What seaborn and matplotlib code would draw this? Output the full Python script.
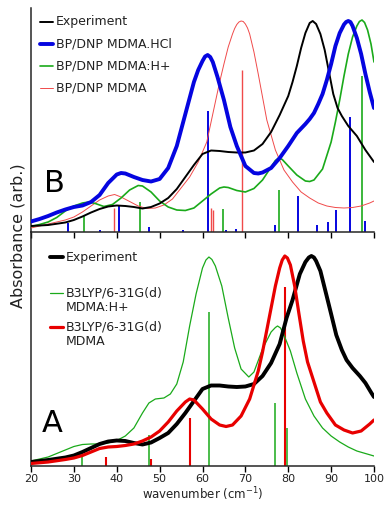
import numpy as np
import pandas as pd
import matplotlib
matplotlib.use("Agg")
import matplotlib.pyplot as plt
import seaborn as sns

# ---------------- data ----------------
# Panel B (top)
exp_b_x = [20, 24, 28, 30, 32, 34, 36, 38, 40, 42, 44, 46, 48, 50, 52, 54, 56, 58, 60, 62,
           64, 66, 68, 70, 72, 74, 76, 78, 80, 81, 82, 83, 84, 85, 85.7, 86.5, 87.5, 88.5,
           89.5, 90.5, 91.5, 92.5, 94, 96, 98, 100]
exp_b_y = [6, 7, 9.5, 12, 15.5, 19.5, 23, 25.5, 26.5, 26, 25, 23.5, 25, 28.5, 34, 43, 55, 67, 78, 81.5,
           81, 80, 79.5, 79.5, 81.5, 88, 100, 117, 136, 150, 166, 184, 199, 209, 211, 208, 198, 182,
           160, 138, 124, 116, 106, 96, 82, 70]

hcl_b_x = [20, 22, 24, 26, 28, 30, 32, 34, 36, 38, 40, 41, 42, 44, 46, 48, 50, 52, 54, 56, 58, 59,
           60, 60.6, 61.2, 61.8, 62.4, 63.5, 65, 66.5, 68, 70, 72, 73, 74, 76, 78, 80, 82, 84, 85, 86,
           87, 88, 89, 90, 91, 92, 93, 93.5, 94, 94.5, 95, 96, 97, 98, 99, 100]
hcl_b_y = [10.5, 13, 16, 19.5, 22.5, 25, 26.5, 30, 37, 49, 57.5, 59, 58.5, 55, 52, 50.5, 53, 64, 86, 118, 150, 162,
           171, 175.5, 177, 175, 170, 155, 132, 105, 86, 66, 59, 58.5, 59.5, 64, 74, 86, 99, 108, 113, 119,
           128, 138, 152, 168, 186, 199, 207.5, 210, 211, 210, 206, 194, 178, 158, 140, 124]

hp_b_x = [20, 22, 24, 26, 28, 30, 32, 33.5, 35, 37, 39, 41, 43, 45, 46, 48, 50, 52, 54, 56, 58, 60,
          62, 64, 65, 66, 68, 70, 72, 74, 76, 77, 77.8, 78.6, 80, 82, 84, 85, 86, 88, 90, 91, 92, 93,
          94, 95, 96, 96.6, 97.2, 97.8, 98.5, 99.3, 100]
hp_b_y = [5.5, 7.5, 10, 14.5, 21, 26, 29, 30, 28.5, 25.5, 27.5, 34, 42, 46.5, 46, 40, 31, 25, 22, 21.5, 24, 31,
          38, 44, 45, 44.5, 41.5, 40, 43.5, 52, 65, 71.5, 74, 72.5, 66, 57, 51, 50.5, 52, 63, 90, 110, 132, 156,
          178, 195, 206, 210.5, 212, 209.5, 202, 188, 170]

mdma_b_x = [20, 22, 24, 26, 28, 30, 32, 34, 36, 38, 39.5, 41, 43, 45, 47, 49, 51, 53, 55, 57, 59, 61,
            63, 64, 65, 66, 67, 67.5, 68, 68.5, 69, 69.5, 70, 70.5, 71, 72, 73, 74, 75, 77, 79, 81,
            83, 85, 87, 89, 91, 93, 95, 97, 99, 100]
mdma_b_y = [4, 6, 8, 10, 12, 15, 20, 26, 32, 36, 37.5, 35, 30.5, 26, 23.5, 24, 27, 33, 44, 55, 70, 90,
            130, 150, 168, 185, 198, 203.5, 207.5, 210, 211, 210.5, 208, 204, 198, 180, 158, 135, 112, 82, 62, 50,
            40, 34, 29, 26, 24.5, 24, 24.5, 26, 29, 31]

# sticks, panel B
hcl_stick_x = [28.7, 36.1, 40.5, 47.5, 55.4, 61.3, 65.5, 67.9, 76.9, 82.3, 86.6, 89.3, 91.2, 94.4, 97.9]
hcl_stick_y = [9, 2, 27, 5, 2, 121, 2, 3, 7, 36, 7, 10, 22, 115, 11]
hp_stick_b_x = [32.4, 45.5, 64.7, 77.9, 97.3]
hp_stick_b_y = [16, 30, 23, 42, 156]
mdma_stick_b_x = [39.3, 62.0, 62.4, 69.3]
mdma_stick_b_y = [24, 24, 22, 162]

# Panel A (bottom)
exp_a_x = [20, 24, 28, 30, 32, 34, 36, 38, 40, 42, 44, 46, 48, 50, 52, 54, 56, 58, 60, 62, 64, 66,
           68, 70, 72, 74, 76, 78, 79.6, 81, 82.7, 84, 84.8, 85.4, 86, 86.5, 87.5, 88.9, 90, 91.2,
           92.5, 93.6, 95, 96.7, 98, 99.4, 100]
exp_a_y = [4, 6, 8.5, 10.5, 14, 18, 22, 24.5, 25.5, 25, 23, 21.5, 23.5, 28, 33, 42, 53, 65, 77, 80.5, 80.5, 79.5,
           79, 79.5, 82, 90, 103, 122, 148, 166, 192, 204, 208.5, 210, 208.5, 205, 195, 171, 152, 131,
           116, 106, 98, 90, 83, 73, 69]

red_a_x = [20, 24, 28, 30, 32, 34, 36, 38, 40, 42, 44, 46, 48, 50, 52, 54, 56, 57, 58, 60, 62, 64,
           65.5, 67, 69, 71, 73, 74, 75, 76, 77, 78, 78.6, 79.2, 79.8, 80.5, 81.5, 82.5, 83.5, 84.5,
           86, 87.5, 89, 91, 93, 95, 97, 99, 100]
red_a_y = [2.5, 4, 6.5, 8, 10.5, 14, 17.5, 19, 19.5, 20.5, 22, 25, 29, 35, 44, 55, 64, 67, 66, 57, 47, 41,
           39.5, 41, 50, 67, 95, 114, 136, 158, 180, 198, 206, 210, 208, 201, 180, 152, 125, 104,
           84, 64, 53, 41, 36, 33, 35, 42, 46]

hp_a_x = [20, 22, 24, 26, 28, 30, 32, 34, 36, 38, 40, 42, 44, 46, 47.5, 49, 51, 52.5, 54, 55.5, 57,
          58.5, 60, 60.8, 61.5, 62.2, 63, 64.5, 66, 67.5, 69, 70.8, 72, 74, 76, 77, 77.5, 78.2, 79,
          80.5, 82, 84, 86, 88, 90, 92, 94, 96, 98, 100]
hp_a_y = [5, 7, 9, 12.5, 16, 19.5, 21.5, 22, 22, 23, 25.5, 30, 38, 53, 63, 67, 68, 72, 82, 104, 140,
          172, 198, 206, 209, 206.5, 200, 180, 148, 118, 97, 89, 94, 117, 134, 138.5, 140, 138, 131,
          115, 93, 67, 50, 38, 30, 24, 19, 15, 12.5, 10]

# sticks, panel A
hp_stick_a_x = [31.8, 47.6, 61.6, 77.0, 79.6]
hp_stick_a_y = [9.3, 31, 154, 63, 38]
red_stick_a_x = [37.6, 48.1, 57.1, 79.3]
red_stick_a_y = [9.3, 6.7, 48, 179]

xticks = [20, 30, 40, 50, 60, 70, 80, 90, 100]

# ---------------- style ----------------
sns.set_theme(style="ticks")
plt.rcParams['font.family'] = ['DejaVu Sans']
plt.rcParams['axes.linewidth'] = 1.1

BLACK = "#000000"
BLUE = "#0505e0"
GREEN = "#1aaa1a"
RED = "#e80000"
LRED = "#f04a4a"
TXT = "#222222"

fig = plt.figure(figsize=(3.87, 5.12), dpi=100)
W, H = 387.0, 512.0
ax_b = fig.add_axes([31 / W, 1 - 232 / H, (374 - 31) / W, (232 - 8) / H])
ax_a = fig.add_axes([31 / W, 1 - 466 / H, (374 - 31) / W, (466 - 232) / H])


def curve(ax, x, y, color, lw, z=3):
    df = pd.DataFrame({"x": x, "y": y})
    sns.lineplot(data=df, x="x", y="y", ax=ax, color=color, linewidth=lw,
                 sort=True, estimator=None, zorder=z, solid_joinstyle="round",
                 solid_capstyle="round")


def sticks(ax, x, y, color, lw, z=2):
    ax.vlines(x, 0, y, colors=color, linewidth=lw, zorder=z)


# Panel B
sticks(ax_b, hcl_stick_x, hcl_stick_y, BLUE, 1.4)
sticks(ax_b, hp_stick_b_x, hp_stick_b_y, GREEN, 1.2)
sticks(ax_b, mdma_stick_b_x, mdma_stick_b_y, LRED, 1.0)
curve(ax_b, mdma_b_x, mdma_b_y, LRED, 0.7, 3)
curve(ax_b, hp_b_x, hp_b_y, GREEN, 1.2, 4)
curve(ax_b, exp_b_x, exp_b_y, BLACK, 1.4, 5)
curve(ax_b, hcl_b_x, hcl_b_y, BLUE, 2.8, 6)

# Panel A
sticks(ax_a, hp_stick_a_x, hp_stick_a_y, GREEN, 1.1)
sticks(ax_a, red_stick_a_x, red_stick_a_y, RED, 1.5)
curve(ax_a, hp_a_x, hp_a_y, GREEN, 0.9, 3)
curve(ax_a, exp_a_x, exp_a_y, BLACK, 2.8, 4)
curve(ax_a, red_a_x, red_a_y, RED, 2.3, 5)

for ax, top in ((ax_b, 224), (ax_a, 234)):
    ax.set_xlim(20, 100)
    ax.set_ylim(0, top)
    ax.set_xticks(xticks)
    ax.set_yticks([])
    ax.set_xlabel("")
    ax.set_ylabel("")
    ax.patch.set_alpha(0)
    for s in ("top", "right"):
        ax.spines[s].set_visible(False)
    ax.spines["left"].set_linewidth(1.1)
    ax.spines["bottom"].set_linewidth(1.1)
    ax.tick_params(axis="x", direction="out", length=4, width=1.0, color="black",
                   labelsize=8, pad=2, labelcolor=TXT)

ax_b.tick_params(axis="x", labelbottom=False)
ax_a.set_xticklabels([str(t) for t in xticks])
ax_a.set_xlabel("wavenumber (cm$^{-1}$)", fontsize=8.5, labelpad=1, color=TXT)

fig.text(18 / W, 1 - 236 / H, "Absorbance (arb.)", rotation=90, ha="center", va="center",
         fontsize=11.5, color=TXT)

# panel letters
fig.text(44 / W, 1 - 184 / H, "B", fontsize=22, ha="left", va="center", color="black")
fig.text(42 / W, 1 - 423 / H, "A", fontsize=22, ha="left", va="center", color="black")


# legends (drawn as handle line + label)
def leg(x0, x1, ytext, yline, label, color, lw):
    fig.add_artist(plt.Line2D([x0 / W, x1 / W], [1 - yline / H, 1 - yline / H], color=color,
                              linewidth=lw, transform=fig.transFigure))
    fig.text((x1 + 3) / W, 1 - ytext / H, label, fontsize=9, ha="left", va="center",
             color=TXT, linespacing=1.2)


leg(40, 53, 22, 22, "Experiment", BLACK, 1.4)
leg(40, 53, 44, 44, "BP/DNP MDMA.HCl", BLUE, 2.8)
leg(40, 53, 66, 66, "BP/DNP MDMA:H+", GREEN, 1.2)
leg(40, 53, 88, 88, "BP/DNP MDMA", LRED, 0.7)

leg(50, 63, 257, 257, "Experiment", BLACK, 2.8)
leg(50, 63, 300, 293, "B3LYP/6-31G(d)\nMDMA:H+", GREEN, 0.9)
leg(50, 63, 334, 327, "B3LYP/6-31G(d)\nMDMA", RED, 2.3)

fig.savefig("out.png", dpi=100)
